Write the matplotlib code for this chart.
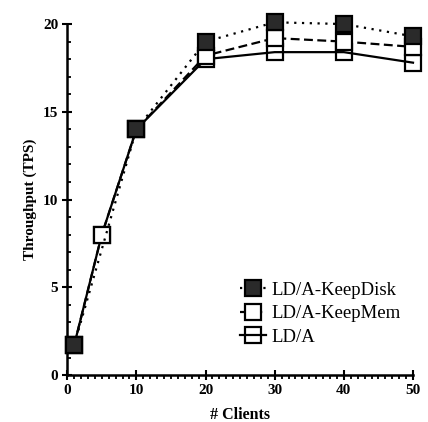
import matplotlib
import matplotlib.pyplot as plt
from matplotlib.ticker import MultipleLocator

matplotlib.use('Agg')

plt.rcParams['font.family'] = ['Liberation Serif', 'DejaVu Serif']

clients = [1, 5, 10, 20, 30, 40, 50]
clients_disk = [1, 10, 20, 30, 40, 50]
tps_keepdisk = [1.7, 14.0, 19.0, 20.1, 20.0, 19.3]
tps_keepmem = [1.7, 8.0, 14.0, 18.2, 19.2, 19.0, 18.7]
tps_lda = [1.7, 8.0, 14.0, 18.0, 18.4, 18.4, 17.8]


def make_plot():
    fig = plt.figure(figsize=(4.28, 4.22), dpi=100)
    ax = fig.add_axes([0.157, 0.111, 0.808, 0.832])

    ax.plot(clients, tps_lda, color='black', linestyle='-', linewidth=1.6,
            marker='s', markersize=11, markerfacecolor='none',
            markeredgewidth=1.6, clip_on=False, label='LD/A', zorder=3)
    ax.plot(clients, tps_keepmem, color='black', linestyle=(0, (4, 2)),
            linewidth=1.6, marker='s', markersize=11, markerfacecolor='white',
            markeredgewidth=1.6, clip_on=False, label='LD/A-KeepMem', zorder=4)
    ax.plot(clients_disk, tps_keepdisk, color='black', linestyle=(0, (1, 2.5)),
            linewidth=1.6, marker='s', markersize=11, markerfacecolor='#2a2a2a',
            markeredgewidth=1.6, clip_on=False, label='LD/A-KeepDisk', zorder=5)

    ax.set_xlim(0, 50)
    ax.set_ylim(0, 20)
    ax.xaxis.set_major_locator(MultipleLocator(10))
    ax.xaxis.set_minor_locator(MultipleLocator(1))
    ax.yaxis.set_major_locator(MultipleLocator(5))
    ax.yaxis.set_minor_locator(MultipleLocator(1))

    for side in ['top', 'right']:
        ax.spines[side].set_visible(False)
    for side in ['left', 'bottom']:
        ax.spines[side].set_linewidth(1.8)

    ax.tick_params(axis='both', which='major', direction='inout', length=7,
                   width=1.5, labelsize=11, pad=3)
    ax.tick_params(axis='x', which='minor', direction='out', length=3, width=1.3)
    ax.tick_params(axis='y', which='minor', direction='in', length=3, width=1.3)
    for lbl in ax.get_xticklabels() + ax.get_yticklabels():
        lbl.set_fontweight('bold')

    ax.set_xlabel('# Clients', fontsize=11.5, fontweight='bold', labelpad=7)
    ax.set_ylabel('Throughput (TPS)', fontsize=11, fontweight='bold', labelpad=4)

    handles, labels = ax.get_legend_handles_labels()
    ax.legend(handles[::-1], labels[::-1], loc='lower left', frameon=False,
              fontsize=13.5, handlelength=1.4, handletextpad=0.3,
              labelspacing=0.35, bbox_to_anchor=(0.45, 0.035))

    plt.savefig('out.png')
    plt.close()


if __name__ == "__main__":
    make_plot()
